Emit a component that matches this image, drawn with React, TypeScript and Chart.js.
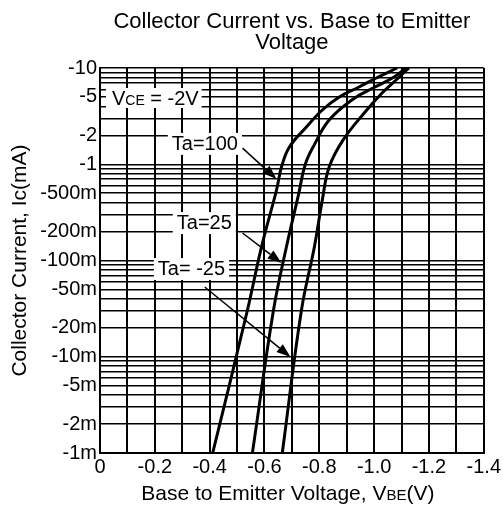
import React, { useEffect, useRef } from "react";
import { Chart, registerables } from "chart.js";

Chart.register(...registerables);

const FONT = "'Liberation Sans', Arial, Helvetica, sans-serif";

// Base-to-emitter voltage VBE (V) and collector current Ic (mA)
const vbeTa100 = [-0.411, -0.538, -0.589, -0.644, -0.662, -0.691, -0.753, -0.811, -0.873, -0.945, -1.015, -1.084];
const icTa100 = [-0.001, -0.0306, -0.138, -0.54, -0.936, -1.51, -2.44, -3.66, -5.0, -6.35, -8.06, -10];

const vbeTa25 = [-0.556, -0.633, -0.68, -0.724, -0.749, -0.782, -0.836, -0.924, -0.996, -1.073, -1.116];
const icTa25 = [-0.001, -0.0306, -0.138, -0.48, -1.0, -1.6, -2.88, -4.76, -6.2, -8.06, -10];

const vbeTaM25 = [-0.665, -0.735, -0.782, -0.811, -0.836, -0.887, -0.967, -1.029, -1.08, -1.127];
const icTaM25 = [-0.001, -0.0306, -0.138, -0.425, -0.936, -1.79, -3.49, -5.5, -7.5, -10];

// Axis ticks
const xTickValues = [0, -0.2, -0.4, -0.6, -0.8, -1.0, -1.2, -1.4];
const xTickLabels = ["0", "-0.2", "-0.4", "-0.6", "-0.8", "-1.0", "-1.2", "-1.4"];
const yTickValues = [-10, -5, -2, -1, -0.5, -0.2, -0.1, -0.05, -0.02, -0.01, -0.005, -0.002, -0.001];
const yTickLabels = ["-10", "-5", "-2", "-1", "-500m", "-200m", "-100m", "-50m", "-20m", "-10m", "-5m", "-2m", "-1m"];

const titleLines = ["Collector Current vs. Base to Emitter", "Voltage"];
const yTitle = "Collector Current, Ic(mA)";

// grid: every 0.1 V, and 1..9 per decade
const xGridValues: number[] = [];
for (let i = 0; i <= 14; i++) xGridValues.push(-i / 10);
const yGridValues: number[] = [];
for (let e = -3; e <= 0; e++) {
  for (let m = 1; m <= 9; m++) yGridValues.push(Number((m * Math.pow(10, e)).toPrecision(3)));
}
yGridValues.push(10);

// annotation anchors in data units (V, mA)
const curveNotes = [
  { text: "Ta=100", at: [-0.262, -1.41], from: [-0.52, -1.47], to: [-0.644, -0.703] },
  { text: "Ta=25", at: [-0.28, -0.212], from: [-0.52, -0.193], to: [-0.662, -0.0942] },
  { text: "Ta= -25", at: [-0.211, -0.0706], from: [-0.382, -0.0531], to: [-0.695, -0.00993] },
];
const vceNoteAt = [-0.0436, -4.13];

function drawRuns(ctx: CanvasRenderingContext2D, runs: { t: string; s: number }[], x: number, y: number) {
  let cx = x;
  for (const r of runs) {
    ctx.font = `${r.s}px ${FONT}`;
    ctx.fillText(r.t, cx, y);
    cx += ctx.measureText(r.t).width;
  }
  return cx;
}
function runsWidth(ctx: CanvasRenderingContext2D, runs: { t: string; s: number }[]) {
  let w = 0;
  for (const r of runs) {
    ctx.font = `${r.s}px ${FONT}`;
    w += ctx.measureText(r.t).width;
  }
  return w;
}

const textPlugin = {
  id: "customText",
  afterDraw(chart: any) {
    const { ctx, chartArea, scales } = chart;
    const px = (v: number) => scales.x.getPixelForValue(v);
    const py = (v: number) => scales.y.getPixelForValue(Math.abs(v));
    ctx.save();
    ctx.fillStyle = "#000";
    ctx.strokeStyle = "#000";
    ctx.textBaseline = "alphabetic";

    // Title
    ctx.font = `22px ${FONT}`;
    ctx.textAlign = "center";
    const cx = (chartArea.left + chartArea.right) / 2;
    ctx.fillText(titleLines[0], cx, chartArea.top - 40);
    ctx.fillText(titleLines[1], cx, chartArea.top - 19);

    // X title with smaller BE
    ctx.textAlign = "left";
    const xRuns = [
      { t: "Base to Emitter Voltage, V", s: 21 },
      { t: "BE", s: 15 },
      { t: "(V)", s: 21 },
    ];
    const w = runsWidth(ctx, xRuns);
    drawRuns(ctx, xRuns, cx - 4 - w / 2, chartArea.bottom + 47);

    // VCE note
    const vRuns = [
      { t: "V", s: 20 },
      { t: "CE", s: 14 },
      { t: " = -2V", s: 20 },
    ];
    const vx = px(vceNoteAt[0]);
    const vy = py(vceNoteAt[1]);
    const vw = runsWidth(ctx, vRuns);
    ctx.fillStyle = "#fff";
    ctx.fillRect(vx - 6, vy - 17, vw + 9, 20);
    ctx.fillStyle = "#000";
    drawRuns(ctx, vRuns, vx, vy);

    // Curve notes with arrows
    for (const n of curveNotes) {
      ctx.font = `20px ${FONT}`;
      const tx = px(n.at[0]);
      const ty = py(n.at[1]);
      const tw = ctx.measureText(n.text).width;
      ctx.fillStyle = "#fff";
      ctx.fillRect(tx - 4, ty - 17, tw + 8, 22);
      ctx.fillStyle = "#000";
      ctx.fillText(n.text, tx, ty);

      const x1 = px(n.from[0]);
      const y1 = py(n.from[1]);
      const x2 = px(n.to[0]);
      const y2 = py(n.to[1]);
      const ang = Math.atan2(y2 - y1, x2 - x1);
      const L = 14;
      const W = 5;
      const bx = x2 - L * Math.cos(ang);
      const by = y2 - L * Math.sin(ang);
      ctx.lineWidth = 1.5;
      ctx.beginPath();
      ctx.moveTo(x1, y1);
      ctx.lineTo(bx, by);
      ctx.stroke();
      ctx.beginPath();
      ctx.moveTo(x2, y2);
      ctx.lineTo(bx - W * Math.sin(ang), by + W * Math.cos(ang));
      ctx.lineTo(bx + W * Math.sin(ang), by - W * Math.cos(ang));
      ctx.closePath();
      ctx.fill();
    }
    ctx.restore();
  },
};

function toPoints(v: number[], ic: number[]) {
  return v.map((x, i) => ({ x, y: Math.abs(ic[i]) }));
}

export default function App() {
  const ref = useRef<HTMLCanvasElement | null>(null);

  useEffect(() => {
    if (!ref.current) return;
    const lineStyle = {
      borderColor: "#000",
      borderWidth: 3,
      pointRadius: 0,
      fill: false,
      tension: 0.4,
    };
    const chart = new Chart(ref.current, {
      type: "line",
      data: {
        datasets: [
          { label: "Ta=100", data: toPoints(vbeTa100, icTa100), ...lineStyle },
          { label: "Ta=25", data: toPoints(vbeTa25, icTa25), ...lineStyle },
          { label: "Ta=-25", data: toPoints(vbeTaM25, icTaM25), ...lineStyle },
        ],
      },
      options: {
        responsive: false,
        animation: false,
        layout: { padding: { top: 68, right: 18, left: 0, bottom: 0 } },
        plugins: {
          legend: { display: false },
          tooltip: { enabled: false },
          title: { display: false },
        },
        scales: {
          x: {
            type: "linear",
            min: -1.4,
            max: 0,
            reverse: true,
            afterBuildTicks: (scale: any) => {
              scale.ticks = xGridValues.map((v) => ({ value: v }));
            },
            afterFit: (scale: any) => {
              scale.height = 54;
            },
            grid: { color: "#000", lineWidth: 2, drawTicks: false },
            border: { display: true, color: "#000", width: 2 },
            ticks: {
              autoSkip: false,
              maxRotation: 0,
              padding: 2,
              color: "#000",
              font: { family: FONT, size: 20 },
              callback: (value: any) => {
                const i = xTickValues.findIndex((t) => Math.abs(t - Number(value)) < 1e-6);
                return i >= 0 ? xTickLabels[i] : "";
              },
            },
          },
          y: {
            type: "logarithmic",
            min: 0.001,
            max: 10,
            afterBuildTicks: (scale: any) => {
              scale.ticks = yGridValues.map((v) => ({ value: v }));
            },
            afterFit: (scale: any) => {
              scale.width = 100;
            },
            grid: { color: "#000", lineWidth: 1.5, drawTicks: false },
            border: { display: true, color: "#000", width: 2 },
            title: {
              display: true,
              text: yTitle,
              color: "#000",
              font: { family: FONT, size: 21 },
              padding: { top: 8, bottom: 0 },
            },
            ticks: {
              autoSkip: false,
              padding: 3,
              color: "#000",
              font: { family: FONT, size: 20 },
              callback: (value: any) => {
                const v = Number(value);
                const i = yTickValues.findIndex((t) => Math.abs(Math.abs(t) - v) < Math.abs(t) * 1e-6);
                return i >= 0 ? yTickLabels[i] : "";
              },
            },
          },
        },
      },
      plugins: [textPlugin],
    });
    return () => chart.destroy();
  }, []);

  return (
    <div style={{ position: "absolute", left: 0, top: 0, width: 503, height: 507, background: "#fff" }}>
      <canvas ref={ref} width={503} height={507} style={{ display: "block" }} />
    </div>
  );
}
